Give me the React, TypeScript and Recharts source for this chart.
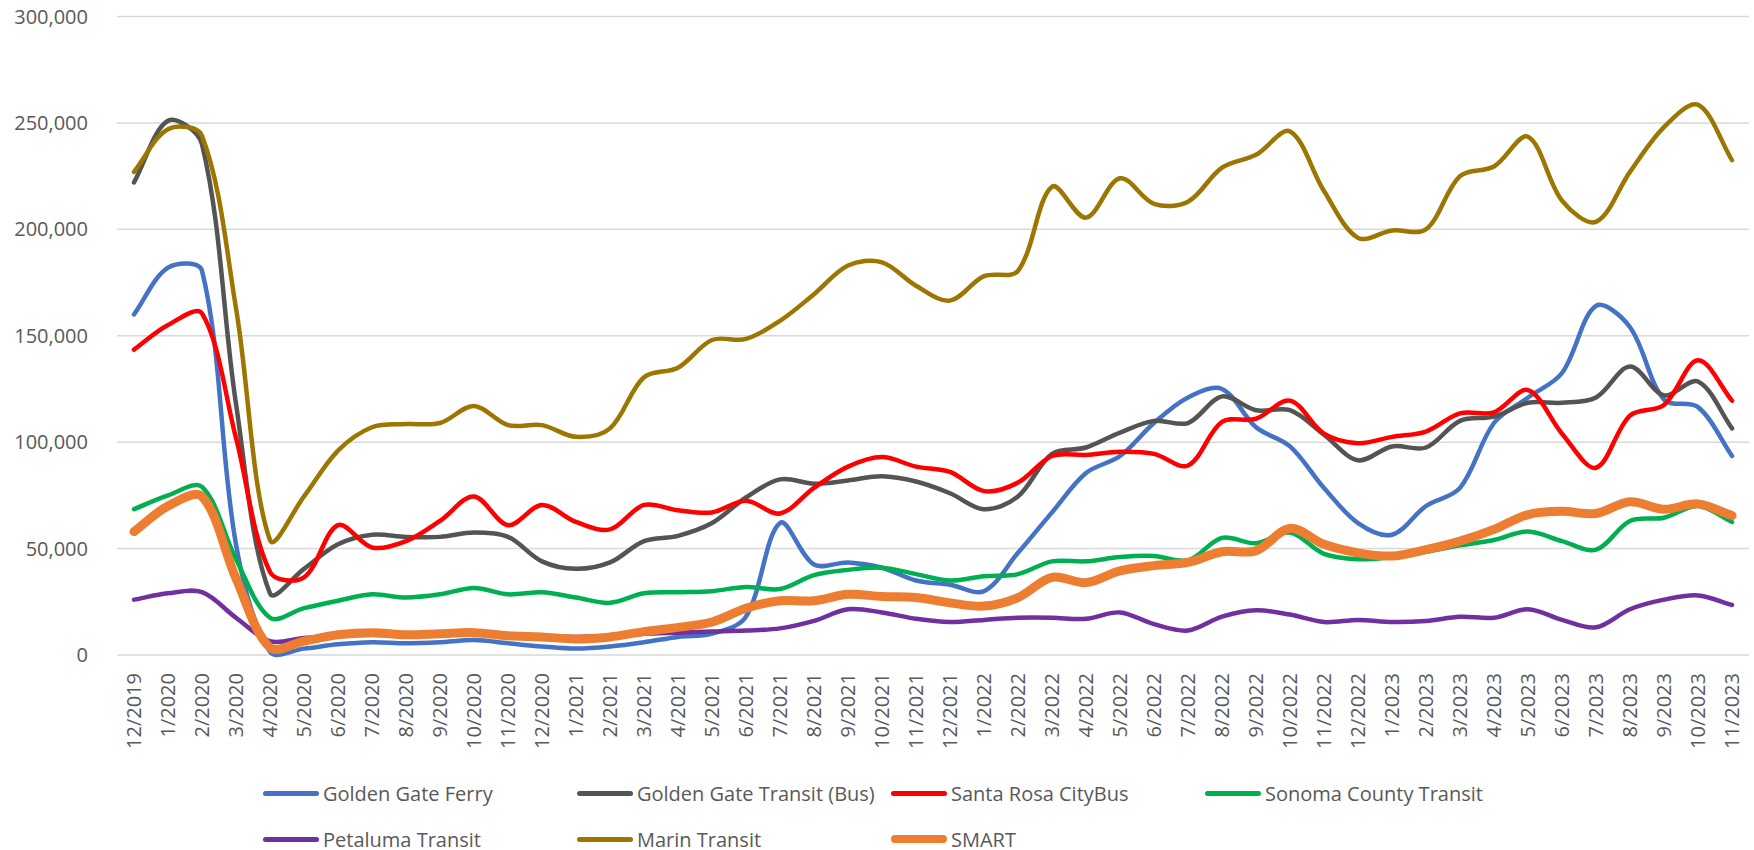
import { CartesianGrid, Line, LineChart, XAxis, YAxis } from 'recharts';

const months = [
  '12/2019', '1/2020', '2/2020', '3/2020', '4/2020', '5/2020', '6/2020', '7/2020', '8/2020', '9/2020', '10/2020', '11/2020',
  '12/2020', '1/2021', '2/2021', '3/2021', '4/2021', '5/2021', '6/2021', '7/2021', '8/2021', '9/2021', '10/2021', '11/2021',
  '12/2021', '1/2022', '2/2022', '3/2022', '4/2022', '5/2022', '6/2022', '7/2022', '8/2022', '9/2022', '10/2022', '11/2022',
  '12/2022', '1/2023', '2/2023', '3/2023', '4/2023', '5/2023', '6/2023', '7/2023', '8/2023', '9/2023', '10/2023', '11/2023',
];

const goldenGateFerry = [
  160000, 182000, 180500, 52000, 1500, 3000, 5000, 6000, 5500, 6000, 7000, 5500,
  4000, 3000, 4000, 6000, 8500, 10000, 18000, 62000, 42500, 43500, 41000, 35000,
  33000, 30000, 48000, 67000, 85500, 93500, 109000, 121000, 125000, 107000, 98000, 78500,
  62000, 56500, 70000, 78500, 109000, 121000, 132500, 164000, 154000, 120000, 116500, 93500,
];
const goldenGateBus = [
  222000, 251000, 240000, 118000, 29000, 40500, 52000, 56500, 55500, 55500, 57500, 55500,
  44000, 40500, 43500, 53500, 56000, 62000, 74000, 82500, 80500, 82000, 84000, 81500,
  76000, 68500, 74500, 94500, 97500, 104500, 110000, 109000, 121500, 115000, 115000, 103500,
  91500, 98000, 97500, 110000, 112000, 118500, 118500, 121000, 135500, 122000, 128500, 106500,
];
const santaRosaCityBus = [
  143500, 155000, 160500, 102000, 39000, 36500, 61000, 50500, 53500, 63000, 74500, 61000,
  70500, 62500, 59000, 70500, 68000, 67000, 72500, 66500, 78500, 88500, 93000, 88500,
  86000, 77000, 81000, 93500, 94000, 95500, 94500, 89000, 109500, 111000, 119500, 104000,
  99500, 102500, 105000, 113500, 114000, 124500, 104000, 88000, 112500, 117500, 138500, 119500,
];
const sonomaCountyTransit = [
  68500, 75000, 79000, 45000, 17500, 22000, 25500, 28500, 27000, 28500, 31500, 28500,
  29500, 27000, 24500, 29000, 29500, 30000, 32000, 31000, 37500, 40000, 41000, 38000,
  35000, 37000, 38000, 44000, 44000, 46000, 46500, 44500, 55000, 52500, 57500, 47500,
  45000, 46000, 48500, 51500, 54000, 58000, 53500, 49500, 63000, 64500, 70000, 62500,
];
const petalumaTransit = [
  26000, 29000, 29500, 17500, 6500, 8000, 9000, 9500, 9000, 9500, 10000, 9500,
  9000, 8500, 9000, 10000, 10500, 11000, 11500, 12500, 16000, 21500, 20000, 17000,
  15500, 16500, 17500, 17500, 17000, 20000, 14500, 11500, 18000, 21000, 19000, 15500,
  16500, 15500, 16000, 18000, 17500, 21500, 16500, 13000, 21500, 26000, 28000, 23500,
];
const marinTransit = [
  227000, 247000, 244000, 163000, 54000, 74500, 96000, 107000, 108500, 109000, 117000, 108000,
  108000, 102500, 106500, 130500, 135000, 148000, 148500, 157000, 169500, 183000, 184500, 173500,
  166500, 178000, 180500, 220000, 205500, 224000, 212000, 213000, 229000, 235000, 246000, 218000,
  196000, 199500, 200000, 225000, 229500, 243500, 213500, 203500, 227000, 248000, 258500, 232500,
];
const smart = [
  58000, 70000, 74500, 36000, 3500, 6500, 9500, 10500, 9500, 10000, 10500, 9000,
  8500, 7500, 8500, 11000, 13000, 15500, 22000, 25500, 25500, 28500, 27500, 27000,
  24500, 23000, 27000, 36500, 34000, 39500, 42000, 43500, 48500, 49000, 59500, 52000,
  48000, 46500, 49500, 53500, 59000, 66000, 67500, 66500, 72000, 68500, 71000, 65500,
];

const yTicks = [0, 50000, 100000, 150000, 200000, 250000, 300000];

const series = [
  { key: 'ferry', name: 'Golden Gate Ferry', values: goldenGateFerry, color: '#4472C4', width: 4.5 },
  { key: 'bus', name: 'Golden Gate Transit (Bus)', values: goldenGateBus, color: '#545454', width: 4.5 },
  { key: 'santaRosa', name: 'Santa Rosa CityBus', values: santaRosaCityBus, color: '#FF0000', width: 4.5 },
  { key: 'sonoma', name: 'Sonoma County Transit', values: sonomaCountyTransit, color: '#00B050', width: 4.5 },
  { key: 'petaluma', name: 'Petaluma Transit', values: petalumaTransit, color: '#7030A0', width: 4.5 },
  { key: 'marin', name: 'Marin Transit', values: marinTransit, color: '#9C7600', width: 4.5 },
  { key: 'smart', name: 'SMART', values: smart, color: '#ED7D31', width: 9 },
];

const data = months.map((month, i) => {
  const row: Record<string, string | number> = { month };
  series.forEach((s) => {
    row[s.key] = s.values[i];
  });
  return row;
});

// Excel-like smoothing: tangent from neighbours, handle length split by chord lengths
const excelSmooth = (context: any) => {
  let pts: number[][] = [];
  return {
    areaStart() {},
    areaEnd() {},
    lineStart() {
      pts = [];
    },
    point(x: number, y: number) {
      pts.push([+x, +y]);
    },
    lineEnd() {
      const n = pts.length;
      if (!n) return;
      const dist = (a: number[], b: number[]) => Math.hypot(b[0] - a[0], b[1] - a[1]);
      const handles = pts.map((p, i) => {
        const prev = pts[Math.max(i - 1, 0)];
        const next = pts[Math.min(i + 1, n - 1)];
        const dPrev = dist(prev, p);
        const dNext = dist(p, next);
        const sum = dPrev + dNext || 1;
        const tx = next[0] - prev[0];
        const ty = next[1] - prev[1];
        return {
          inX: p[0] - (tx * dPrev) / (3 * sum),
          inY: p[1] - (ty * dPrev) / (3 * sum),
          outX: p[0] + (tx * dNext) / (3 * sum),
          outY: p[1] + (ty * dNext) / (3 * sum),
        };
      });
      context.moveTo(pts[0][0], pts[0][1]);
      for (let i = 0; i < n - 1; i++) {
        context.bezierCurveTo(
          handles[i].outX,
          handles[i].outY,
          handles[i + 1].inX,
          handles[i + 1].inY,
          pts[i + 1][0],
          pts[i + 1][1],
        );
      }
    },
  };
};

const FONT = '"Open Sans", sans-serif';
const TEXT = '#595959';

function MonthTick({ x, y, payload }: any) {
  return (
    <text
      transform={`translate(${x},${y + 18}) rotate(-90)`}
      textAnchor="end"
      dy="0.35em"
      fontSize={20}
      fontFamily={FONT}
      fill={TEXT}
    >
      {payload.value}
    </text>
  );
}

const legendCols = [263, 577, 891, 1205];
const legendRows = [793, 839];

export default function App() {
  return (
    <div style={{ position: 'absolute', left: 0, top: 0, width: 1754, height: 850, background: '#fff', fontFamily: FONT }}>
      <LineChart width={1754} height={850} data={data} margin={{ top: 16.5, right: 5, bottom: 0, left: 0 }}>
        <CartesianGrid vertical={false} stroke="#d9d9d9" strokeWidth={1.5} />
        <XAxis
          dataKey="month"
          interval={0}
          height={195}
          axisLine={false}
          tickLine={false}
          tickSize={0}
          tickMargin={0}
          padding={{ left: 17, right: 17 }}
          tick={<MonthTick />}
        />
        <YAxis
          width={117}
          domain={[0, 300000]}
          ticks={yTicks}
          axisLine={false}
          tickLine={false}
          tickSize={6}
          tickMargin={23}
          tick={{ fontSize: 20, fontFamily: FONT, fill: TEXT }}
          tickFormatter={(v) => Number(v).toLocaleString('en-US')}
        />
        {series.map((s) => (
          <Line
            key={s.key}
            dataKey={s.key}
            name={s.name}
            type={excelSmooth as any}
            stroke={s.color}
            strokeWidth={s.width}
            strokeLinecap="round"
            strokeLinejoin="round"
            dot={false}
            activeDot={false}
            isAnimationActive={false}
          />
        ))}
      </LineChart>
      {series.map((s, i) => (
        <div
          key={s.key}
          style={{
            position: 'absolute',
            left: legendCols[i % 4],
            top: legendRows[Math.floor(i / 4)] - 15,
            height: 30,
            display: 'flex',
            alignItems: 'center',
            whiteSpace: 'nowrap',
          }}
        >
          <div
            style={{
              width: 56,
              height: s.width === 9 ? 8 : 5,
              borderRadius: 4,
              background: s.color,
              marginRight: 4,
            }}
          />
          <span style={{ fontSize: 20, color: TEXT }}>{s.name}</span>
        </div>
      ))}
    </div>
  );
}
